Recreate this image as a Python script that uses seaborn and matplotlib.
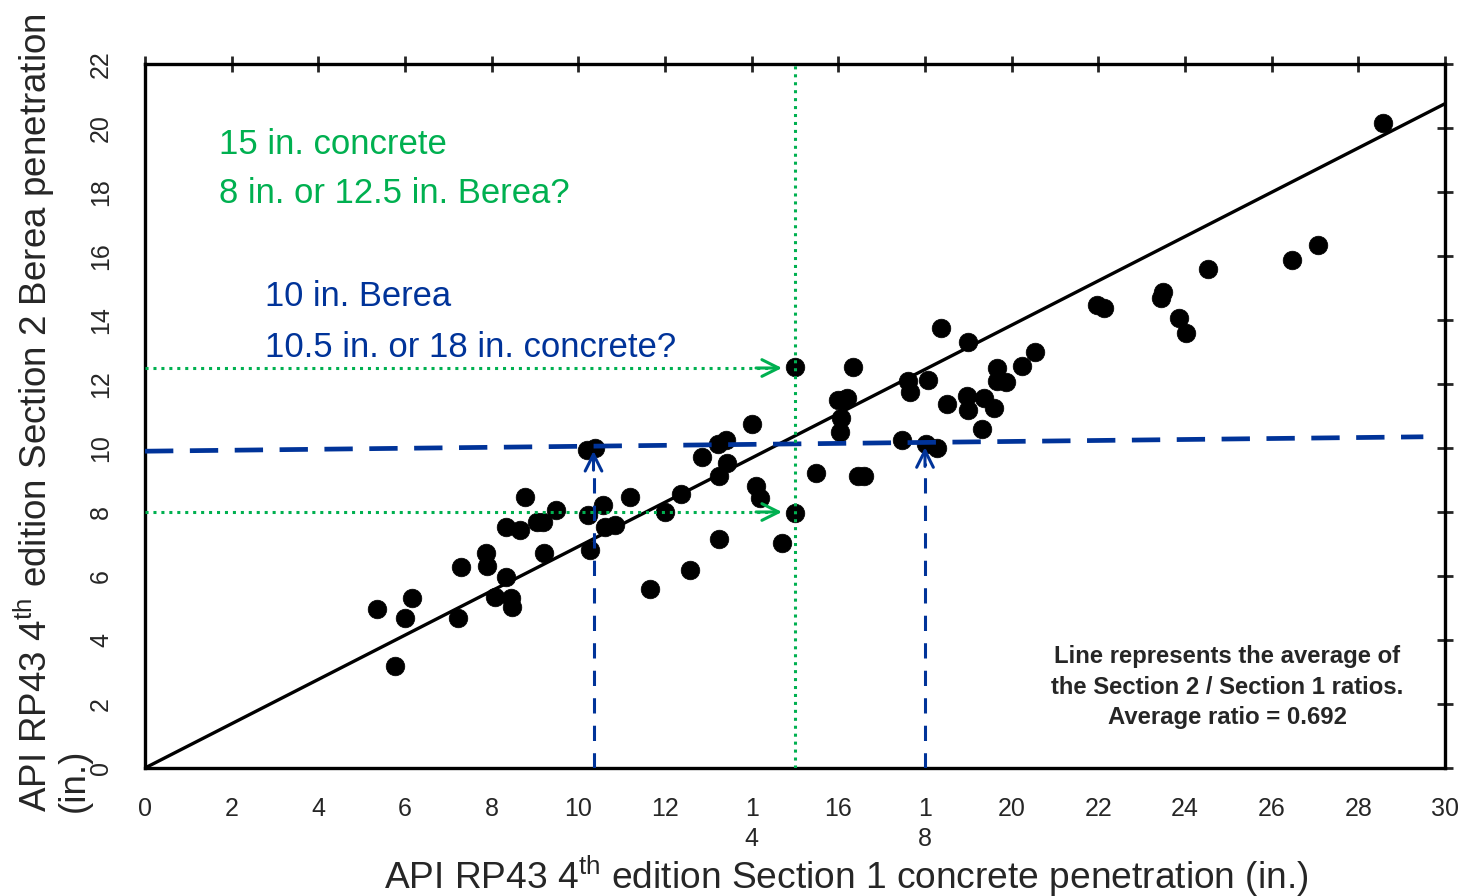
import numpy as np
import pandas as pd
import matplotlib
matplotlib.use("Agg")
import matplotlib.pyplot as plt
import seaborn as sns

# penetration data (inches)
sec1_concrete = [5.35, 5.77, 6.0, 6.16, 7.22, 7.29, 7.87, 7.89, 8.08, 8.33,
                 8.45, 8.47, 8.33, 8.65, 8.77, 9.05, 9.19, 9.21, 9.49, 10.22,
                 10.27, 10.2, 10.39, 10.57, 10.62, 10.85, 11.19, 11.65, 12.0, 12.37,
                 12.58, 12.85, 13.25, 13.25, 13.22, 13.41, 13.43, 14.0, 14.1, 14.19,
                 14.7, 15.0, 15.0, 15.49, 15.99, 16.1, 16.06, 16.04, 16.2, 16.34,
                 16.46, 16.6, 17.47, 17.61, 17.66, 18.02, 18.28, 18.07, 18.37, 18.51,
                 18.99, 18.97, 18.99, 19.32, 19.37, 19.6, 19.65, 19.65, 19.87, 20.24,
                 20.54, 21.97, 22.13, 23.45, 23.5, 23.86, 24.02, 24.53, 26.47, 27.07,
                 28.57]
sec2_berea = [4.97, 3.19, 4.69, 5.31, 4.69, 6.28, 6.72, 6.31, 5.34, 5.97,
              5.31, 5.03, 7.53, 7.44, 8.47, 7.69, 7.69, 6.72, 8.06, 7.91,
              6.81, 9.94, 10.0, 8.22, 7.53, 7.59, 8.47, 5.59, 8.0, 8.56,
              6.19, 9.72, 7.16, 9.13, 10.13, 10.25, 9.53, 10.75, 8.81, 8.44,
              7.03, 12.53, 7.97, 9.22, 11.5, 11.5, 10.94, 10.5, 11.56, 12.53,
              9.13, 9.13, 10.25, 12.09, 11.75, 10.13, 10.0, 12.13, 13.75, 11.38,
              13.31, 11.63, 11.19, 10.59, 11.56, 11.25, 12.5, 12.09, 12.06, 12.56,
              13.0, 14.47, 14.38, 14.69, 14.88, 14.06, 13.59, 15.59, 15.88, 16.34,
              20.16]
avg_ratio = 0.692
line_x = [0, 30]
berea_line_x = [0, 29.5]
berea_line_y = [9.9, 10.35]
berea_x_hits = [10.35, 18.0]
concrete_x = 15.0
berea_y_hits = [12.5, 8.0]

x_ticks = list(range(0, 31, 2))
x_ticklabels = ["1\n4" if t == 14 else "1\n8" if t == 18 else str(t) for t in x_ticks]
y_ticks = list(range(0, 23, 2))

GREEN = "#00B050"
BLUE = "#003399"
FONT = ["Liberation Sans", "DejaVu Sans"]

sns.set_style("white")
plt.rcParams["font.family"] = FONT
plt.rcParams["mathtext.fontset"] = "custom"
plt.rcParams["mathtext.rm"] = "Liberation Sans"
plt.rcParams["mathtext.default"] = "rm"

df = pd.DataFrame({"sec1": sec1_concrete, "sec2": sec2_berea})

fig = plt.figure(figsize=(14.61, 8.96), dpi=100)
ax = fig.add_axes([145 / 1461, 1 - 768 / 896, 1300 / 1461, 704 / 896])
renderer = fig.canvas.get_renderer()


def fit(txt, target_px, vertical=False):
    # scale the font so the text spans about target_px
    bb = txt.get_window_extent(renderer)
    size = bb.height if vertical else bb.width
    txt.set_fontsize(txt.get_fontsize() * target_px / size)
    return txt


# average ratio line
line_df = pd.DataFrame({"x": line_x, "y": [v * avg_ratio for v in line_x]})
sns.lineplot(data=line_df, x="x", y="y", color="black", lw=2.4, ax=ax, zorder=2)

sns.scatterplot(data=df, x="sec1", y="sec2", color="black", s=180,
                edgecolor="black", linewidth=0.5, ax=ax, zorder=3)

# blue 10 in. Berea construction
ax.plot(berea_line_x, berea_line_y, color=BLUE, lw=3.4, dashes=(6, 3.5), zorder=4)
for xv in berea_x_hits:
    ytop = np.interp(xv, berea_line_x, berea_line_y) - 0.15
    ax.plot([xv, xv], [0, ytop - 0.5], color=BLUE, lw=2.2, dashes=(5, 4), zorder=4)
    ax.annotate("", xy=(xv, ytop), xytext=(xv, ytop - 0.6),
                arrowprops=dict(arrowstyle="->", color=BLUE, lw=2.2,
                                mutation_scale=30, shrinkA=0, shrinkB=0), zorder=4)

# green 15 in. concrete construction
ax.plot([concrete_x, concrete_x], [0, 22], color=GREEN, lw=2.2,
        dashes=(1, 1.6), zorder=5)
for yv in berea_y_hits:
    ax.plot([0, concrete_x - 0.5], [yv, yv], color=GREEN, lw=2.2,
            dashes=(1, 1.6), zorder=5)
    ax.annotate("", xy=(concrete_x - 0.3, yv), xytext=(concrete_x - 0.9, yv),
                arrowprops=dict(arrowstyle="->", color=GREEN, lw=2.2,
                                mutation_scale=30, shrinkA=0, shrinkB=0), zorder=5)

fit(ax.text(1.71, 19.5, "15 in. concrete", color=GREEN, fontsize=28, va="center"), 228)
fit(ax.text(1.71, 17.95, "8 in. or 12.5 in. Berea?", color=GREEN, fontsize=28, va="center"), 351)
fit(ax.text(2.77, 14.75, "10 in. Berea", color=BLUE, fontsize=28, va="center"), 186)
fit(ax.text(2.77, 13.13, "10.5 in. or 18 in. concrete?", color=BLUE, fontsize=28, va="center"), 411)

note = ax.text(24.97, 2.53,
               "Line represents the average of\nthe Section 2 / Section 1 ratios.\nAverage ratio = 0.692",
               fontweight="bold", fontsize=16, ha="center", va="center",
               multialignment="center", linespacing=1.4)
fit(note, 352)

ax.set_xlim(0, 30)
ax.set_ylim(0, 22)
ax.set_xticks(x_ticks)
ax.set_xticklabels(x_ticklabels, fontsize=18, linespacing=1.3)
ax.set_yticks(y_ticks)
ax.set_yticklabels([str(t) for t in y_ticks], fontsize=18, rotation=90, va="center")
ax.tick_params(axis="x", direction="inout", length=12, width=2, pad=15)
ax.tick_params(axis="y", direction="inout", length=12, width=2, pad=17)
ax.tick_params(top=True, right=True, direction="inout", length=12, width=2)
ax.set_xlabel("")
ax.set_ylabel("")
for sp in ax.spines.values():
    sp.set_visible(True)
    sp.set_linewidth(2.4)
    sp.set_color("black")

fit(fig.text(846 / 1461, 1 - 876 / 896,
             "API RP43 4$^{th}$ edition Section 1 concrete penetration (in.)",
             fontsize=28, ha="center", va="center"), 923)
ylab = fig.text(34 / 1461, 1 - 812 / 896,
                "API RP43 4$^{th}$ edition Section 2 Berea penetration",
                fontsize=28, rotation=90, ha="center", va="bottom")
fit(ylab, 800, vertical=True)
fig.text(74 / 1461, 1 - 812 / 896, "(in.)", fontsize=ylab.get_fontsize(),
         rotation=90, ha="center", va="bottom")

fig.savefig("out.png", dpi=100)
